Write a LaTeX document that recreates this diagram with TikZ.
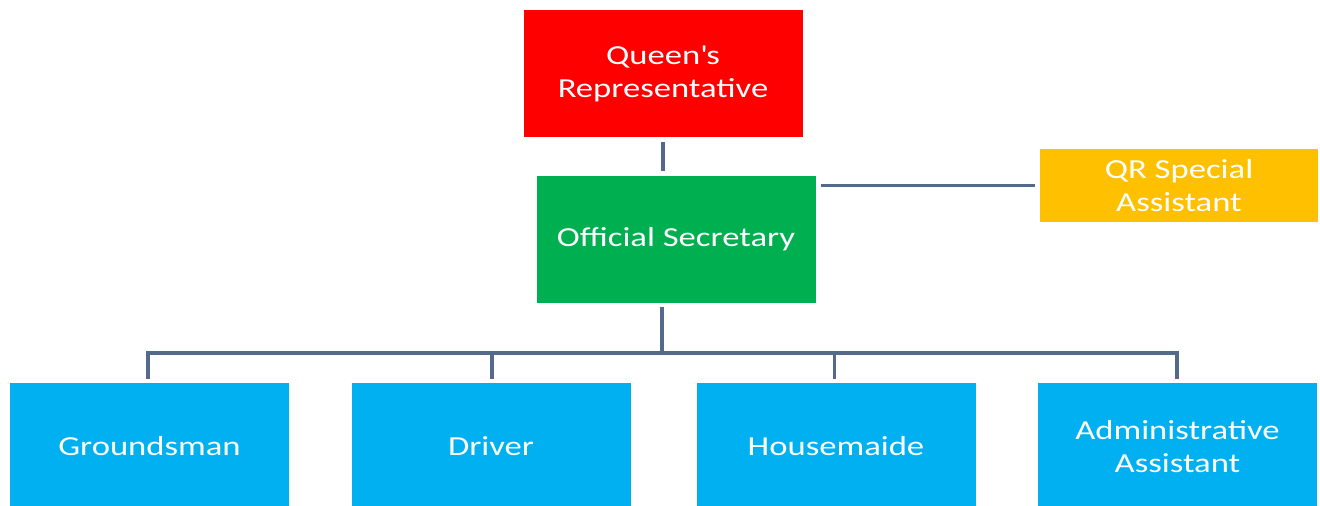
\documentclass[tikz,border=0pt]{standalone}
\usepackage{fontspec}
\setmainfont[FakeStretch=1.26]{Carlito}
\begin{document}
\definecolor{qred}{RGB}{255,0,0}
\definecolor{secgreen}{RGB}{0,176,80}
\definecolor{asstgold}{RGB}{255,192,0}
\definecolor{staffblue}{RGB}{0,176,240}
\definecolor{linkgray}{RGB}{84,106,138}
\begin{tikzpicture}[x=1pt,y=1pt,
  box/.style={rectangle, draw=none, text=white, align=center,
    font=\fontsize{27.5}{33}\selectfont, inner sep=0pt,
    minimum width=279, minimum height=127},
  link/.style={draw=linkgray, line width=3.4pt, line join=miter}]
\useasboundingbox (0,0) rectangle (1320,-506);
\clip (0,0) rectangle (1320,-506);
% top of the hierarchy
\node[box, fill=qred] (queen) at (663,-73.5) {Queen\textquotesingle s\\Representative};
\node[box, fill=secgreen] (sec) at (676,-239) {Official Secretary};
\node[box, fill=asstgold, minimum width=278, minimum height=73] (qr) at (1179,-185.5) {QR Special\\Assistant};
% staff row
\node[box, fill=staffblue] (ground) at (149.5,-446.5) {Groundsman};
\node[box, fill=staffblue] (driver) at (491,-446.5) {Driver};
\node[box, fill=staffblue] (maid) at (836,-446.5) {Housemaide};
\node[box, fill=staffblue] (admin) at (1177.5,-446.5) {Administrative\\Assistant};
\coordinate (bus) at (662,-353);
% connectors
\draw[link, shorten <=5pt, shorten >=4pt] (queen.south) -- (queen.south |- sec.north);
\draw[link, shorten <=5pt, shorten >=5pt] (qr.west) -- (qr.west -| sec.east);
\draw[link, shorten <=4pt] (sec.south -| bus) -- (bus);
\draw[link, shorten <=4pt, shorten >=4pt] ([xshift=-1.5pt]ground.north) -- ([xshift=-1.5pt]ground.north |- bus) -- ([xshift=-0.5pt]admin.north |- bus) -- ([xshift=-0.5pt]admin.north);
\draw[link, shorten >=4pt] ([xshift=1pt]driver.north |- bus) -- ([xshift=1pt]driver.north);
\draw[link, shorten >=4pt] ([xshift=-1.5pt]maid.north |- bus) -- ([xshift=-1.5pt]maid.north);
\end{tikzpicture}
\end{document}
